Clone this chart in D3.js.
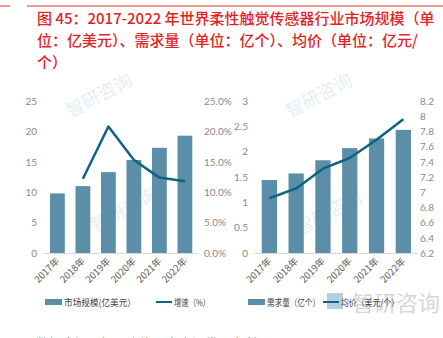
<!DOCTYPE html>
<html>
<head>
<meta charset="utf-8">
<script src="https://cdn.jsdelivr.net/npm/d3@7/dist/d3.min.js"></script>
<style>
  html, body { margin: 0; padding: 0; background: #fff; }
  svg { display: block; }
</style>
</head>
<body>
<svg id="chart" width="443" height="338"></svg>
<script>
// Years shared by both panels
const years = ["2017年", "2018年", "2019年", "2020年", "2021年", "2022年"];
// Left panel: market size (亿美元) and growth rate (%)
const marketSize = [9.8, 11.0, 13.3, 15.3, 17.3, 19.3];
const growthRate = [null, 12.2, 20.8, 15.3, 12.4, 11.8];
// Right panel: demand (亿个) and average price (美元/个)
const demand = [1.44, 1.57, 1.83, 2.07, 2.26, 2.43];
const avgPrice = [6.92, 7.05, 7.31, 7.45, 7.69, 7.96];
// Axis ticks
const leftTicks = [0, 5, 10, 15, 20, 25];
const growthTicks = [0, 5, 10, 15, 20, 25];
const demandTicks = [0, 0.5, 1, 1.5, 2, 2.5, 3];
const priceTicks = [6.2, 6.4, 6.6, 6.8, 7, 7.2, 7.4, 7.6, 7.8, 8, 8.2];

const titleLines = [
  "图 45：2017-2022 年世界柔性触觉传感器行业市场规模（单",
  "位：亿美元）、需求量（单位：亿个）、均价（单位：亿元/",
  "个）"
];

const BAR = "#5b8ea7";
const LINE = "#0f6383";
const TICK = "#8a8a8a";
const CJK = "'Noto Sans CJK SC', sans-serif";
const NUM = "Lato, 'Noto Sans', sans-serif";

const svg = d3.select("#chart");

// Watermarks (faint)
const wm = svg.append("g").attr("fill", "#e6eef3").attr("font-family", CJK);
[[70, 118, -28, 18], [95, 232, -28, 18], [290, 118, -28, 18], [300, 235, -28, 18]].forEach(([x, y, r, s]) => {
  wm.append("text").attr("transform", `translate(${x},${y}) rotate(${r})`)
    .attr("font-size", s).text("智研咨询");
});

// Header rule
svg.append("line").attr("x1", 0).attr("x2", 10).attr("y1", 6).attr("y2", 6)
  .attr("stroke", "#e8302c").attr("stroke-width", 1);
svg.append("line").attr("x1", 27).attr("x2", 443).attr("y1", 6).attr("y2", 6)
  .attr("stroke", "#e8302c").attr("stroke-width", 1);

// Title
svg.append("g").selectAll("text").data(titleLines).join("text")
  .attr("x", 37).attr("y", (d, i) => 24 + i * 22)
  .attr("fill", "#e3231f").attr("font-family", CJK).attr("font-size", 15)
  .attr("font-weight", 500).attr("xml:space", "preserve").style("white-space", "pre")
  .text(d => d);

const y0 = 253, yTop = 101;

function panel(opts) {
  const g = svg.append("g");
  const x = d3.scaleBand().domain(years).range(opts.xRange).paddingInner(opts.pad).paddingOuter(opts.pad);
  const yL = d3.scaleLinear().domain(opts.leftDomain).range([y0, yTop]);
  const yR = d3.scaleLinear().domain(opts.rightDomain).range([y0, yTop]);

  const axL = d3.axisLeft(yL).tickValues(opts.leftTicks).tickSize(0).tickPadding(0).tickFormat(opts.leftFmt);
  g.append("g").attr("transform", `translate(${opts.leftLabelX},0)`).call(axL)
    .call(s => s.select(".domain").remove())
    .selectAll("text").attr("fill", TICK).attr("font-family", NUM).attr("font-size", 10);

  const axR = d3.axisRight(yR).tickValues(opts.rightTicks).tickSize(0).tickPadding(0).tickFormat(opts.rightFmt);
  g.append("g").attr("transform", `translate(${opts.rightLabelX},0)`).call(axR)
    .call(s => s.select(".domain").remove())
    .selectAll("text").attr("fill", TICK).attr("font-family", NUM).attr("font-size", 10);

  // bars
  g.append("g").selectAll("rect").data(opts.bars).join("rect")
    .attr("x", (d, i) => x(years[i])).attr("width", x.bandwidth())
    .attr("y", d => yL(d)).attr("height", d => y0 - yL(d)).attr("fill", BAR);

  // baseline
  g.append("line").attr("x1", opts.xRange[0] + 4).attr("x2", opts.xRange[1] - 4)
    .attr("y1", y0 + 0.5).attr("y2", y0 + 0.5).attr("stroke", "#d9d9d9");

  // line series
  const pts = opts.line.map((v, i) => [years[i], v]).filter(d => d[1] != null);
  g.append("path").datum(pts)
    .attr("d", d3.line().x(d => x(d[0]) + x.bandwidth() / 2).y(d => yR(d[1])))
    .attr("fill", "none").attr("stroke", LINE).attr("stroke-width", 2.5)
    .attr("stroke-linejoin", "round");

  // rotated year labels
  g.append("g").selectAll("text").data(years).join("text")
    .attr("transform", d => `translate(${x(d) + x.bandwidth() / 2 + 1},${y0 + 7}) rotate(-45)`)
    .attr("text-anchor", "end").attr("dominant-baseline", "middle")
    .attr("fill", "#595959").attr("font-family", CJK).attr("font-size", 9.5).text(d => d);

  return g;
}

panel({
  xRange: [39.3, 203], pad: 0.42,
  leftDomain: [0, 25], rightDomain: [0, 25],
  leftTicks, rightTicks: growthTicks,
  leftFmt: d => d, rightFmt: d => d.toFixed(1) + "%",
  leftLabelX: 37, rightLabelX: 204,
  bars: marketSize, line: growthRate
});

panel({
  xRange: [250.2, 422.5], pad: 0.43,
  leftDomain: [0, 3], rightDomain: [6.2, 8.2],
  leftTicks: demandTicks, rightTicks: priceTicks,
  leftFmt: d => d, rightFmt: d => +d.toFixed(1),
  leftLabelX: 248, rightLabelX: 420,
  bars: demand, line: avgPrice
});

// Watermark logo near lower right legend
svg.append("text").attr("x", 352).attr("y", 311).attr("fill", "#d3d8dc")
  .attr("font-family", CJK).attr("font-size", 22).text("智研咨询");
svg.append("rect").attr("x", 327).attr("y", 293).attr("width", 16).attr("height", 16)
  .attr("fill", "#b6cfe0");

// Legends
const leg = svg.append("g").attr("font-family", CJK).attr("font-size", 9).attr("fill", "#404040");
function legText(xp, label, w) {
  leg.append("text").attr("x", xp).attr("y", 305.5)
    .attr("textLength", w).attr("lengthAdjust", "spacingAndGlyphs").text(label);
}
function legBar(xp, label, w) {
  leg.append("rect").attr("x", xp).attr("y", 299).attr("width", 17).attr("height", 6).attr("fill", BAR);
  legText(xp + 19, label, w);
}
function legLine(xp, label, w) {
  leg.append("line").attr("x1", xp).attr("x2", xp + 16).attr("y1", 302).attr("y2", 302)
    .attr("stroke", LINE).attr("stroke-width", 2);
  legText(xp + 18, label, w);
}
legBar(45, "市场规模(亿美元）", 72);
legLine(156, "增速（%）", 36);
legBar(248, "需求量（亿个）", 53);
legLine(323, "均价（美元/个）", 58);

// Source note
svg.append("text").attr("x", 36).attr("y", 348).attr("fill", "#808080")
  .attr("font-family", CJK).attr("font-size", 13).text("数据来源：智研咨询，东方证券研究所");
</script>
</body>
</html>
